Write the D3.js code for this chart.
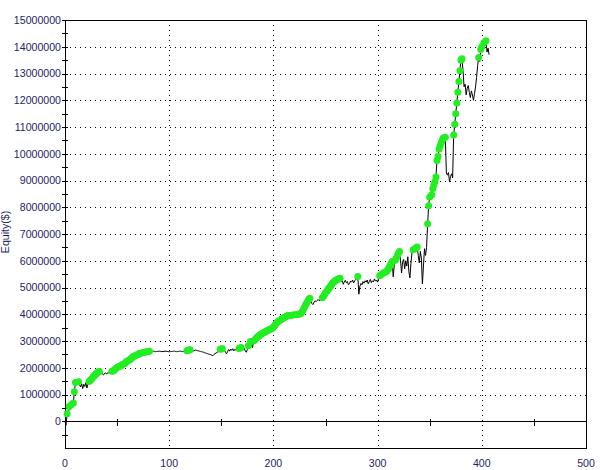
<!DOCTYPE html>
<html>
<head>
<meta charset="utf-8">
<script src="https://cdn.jsdelivr.net/npm/d3@7"></script>
<style>
  html, body { margin: 0; padding: 0; background: #ffffff; }
  svg { display: block; }
</style>
</head>
<body>
<svg id="chart" width="604" height="470"></svg>
<script>
// ---- data (equity in millions of $, one value per trade number) ----
const equityM = [
  0, -0.15, 0.28, 0.18, 0.55, 0.45, 0.62, 0.58, 0.68, 1.10,
  1.45, 1.40, 1.44, 1.48, 1.35, 1.28, 1.40, 1.22, 1.38, 1.30,
  1.44, 1.24, 1.42, 1.49, 1.52, 1.56, 1.60, 1.66, 1.70, 1.74,
  1.78, 1.81, 1.85, 1.86, 1.80, 1.84, 1.76, 1.73, 1.79, 1.81,
  1.76, 1.82, 1.80, 1.84, 1.83, 1.87, 1.88, 1.90, 1.94, 1.98,
  2.01, 2.04, 2.02, 2.06, 2.09, 2.12, 2.10, 2.15, 2.19, 2.23,
  2.26, 2.24, 2.29, 2.33, 2.36, 2.40, 2.43, 2.45, 2.44, 2.48,
  2.50, 2.52, 2.53, 2.51, 2.55, 2.57, 2.56, 2.58, 2.60, 2.59,
  2.61, 2.62, 2.62, 2.60, 2.61, 2.62, 2.61, 2.60, 2.61, 2.61,
  2.62, 2.62, 2.61, 2.60, 2.61, 2.61, 2.62, 2.62, 2.61, 2.60,
  2.60, 2.60, 2.61, 2.61, 2.62, 2.62, 2.61, 2.60, 2.61, 2.61,
  2.62, 2.62, 2.61, 2.60, 2.61, 2.62, 2.62, 2.64, 2.65, 2.66,
  2.67, 2.65, 2.66, 2.63, 2.64, 2.66, 2.65, 2.64, 2.63, 2.62,
  2.61, 2.60, 2.59, 2.58, 2.56, 2.55, 2.54, 2.52, 2.51, 2.50,
  2.48, 2.47, 2.45, 2.50, 2.53, 2.55, 2.58, 2.60, 2.66, 2.69,
  2.70, 2.71, 2.60, 2.66, 2.58, 2.52, 2.60, 2.68, 2.62, 2.70,
  2.65, 2.71, 2.63, 2.69, 2.66, 2.70, 2.62, 2.72, 2.74, 2.76,
  2.70, 2.66, 2.72, 2.63, 2.58, 2.68, 2.82, 2.76, 2.98, 2.86,
  2.75, 3.00, 3.04, 3.08, 3.12, 3.16, 3.19, 3.22, 3.25, 3.28,
  3.30, 3.32, 3.34, 3.36, 3.38, 3.40, 3.42, 3.44, 3.46, 3.48,
  3.52, 3.57, 3.62, 3.67, 3.71, 3.75, 3.77, 3.79, 3.82, 3.85,
  3.87, 3.89, 3.91, 3.93, 3.94, 3.95, 3.95, 3.96, 3.96, 3.97,
  3.97, 3.98, 3.98, 3.99, 4.00, 4.01, 4.02, 4.06, 4.12, 4.20,
  4.28, 4.36, 4.42, 4.50, 4.56, 4.60, 4.48, 4.40, 4.36, 4.45,
  4.50, 4.47, 4.52, 4.55, 4.50, 4.56, 4.58, 4.62, 4.67, 4.74,
  4.80, 4.85, 4.90, 4.96, 5.01, 5.06, 5.12, 5.18, 5.21, 5.24,
  5.27, 5.29, 5.31, 5.33, 5.35, 5.22, 5.28, 5.12, 5.20, 5.27,
  5.18, 5.22, 5.10, 5.14, 5.24, 5.20, 5.28, 5.17, 5.25, 5.30,
  5.33, 5.41, 4.75, 5.05, 5.15, 5.10, 5.22, 5.16, 5.25, 5.20,
  5.28, 5.14, 5.22, 5.30, 5.18, 5.25, 5.21, 5.32, 5.24, 5.28,
  5.20, 5.35, 5.44, 5.48, 5.46, 5.52, 5.55, 5.53, 5.59, 5.62,
  5.68, 5.75, 5.82, 5.90, 5.97, 5.40, 5.85, 6.02, 6.10, 6.20,
  6.28, 6.35, 6.02, 5.54, 5.95, 6.05, 5.70, 6.00, 5.80, 6.15,
  5.60, 5.36, 5.90, 6.30, 6.41, 6.38, 6.45, 6.49, 6.51, 6.20,
  5.92, 6.35, 6.10, 5.13, 5.80, 6.45, 6.20, 6.50, 7.38, 8.06,
  8.38, 8.30, 8.47, 8.70, 8.84, 8.96, 9.13, 9.75, 9.90, 10.18,
  10.30, 10.40, 10.50, 10.59, 10.55, 10.62, 9.28, 9.20, 9.30, 8.95,
  9.15, 9.25, 9.10, 10.70, 11.10, 11.50, 11.90, 12.30, 12.70, 13.10,
  13.50, 13.55, 13.10, 12.50, 12.60, 12.20, 12.45, 12.55, 12.30, 12.10,
  12.35, 12.20, 12.00, 12.25, 12.50, 12.85, 13.30, 13.60, 13.45, 13.90,
  14.00, 13.85, 14.15, 14.05, 14.22, 13.80, 13.95, 13.70
];
const xTickValues = [0, 100, 200, 300, 400, 500];
const xMinorTicks = [50, 150, 250, 350, 450];
const yTickValues = [0, 1000000, 2000000, 3000000, 4000000, 5000000, 6000000, 7000000,
                     8000000, 9000000, 10000000, 11000000, 12000000, 13000000, 14000000, 15000000];
const yGridValues = [1000000, 2000000, 3000000, 4000000, 5000000, 6000000, 7000000,
                     8000000, 9000000, 10000000, 11000000, 12000000, 13000000, 14000000];
const xGridValues = [100, 200, 300, 400];
const yAxisTitle = "Equity($)";

// ---- build ----
const svg = d3.select("#chart");
const pL = 65, pR = 586, pT = 20, pB = 448;
const x = d3.scaleLinear().domain([0, 500]).range([pL, pR]);
const y = d3.scaleLinear().domain([-1000000, 15000000]).range([pB, pT]);
const labelColor = "#1e1e66";
const font = "'Liberation Sans', Arial, sans-serif";

const data = equityM.map((v, i) => ({ i, v: v * 1e6 }));

// grid
const g = svg.append("g").attr("shape-rendering", "crispEdges");
g.selectAll("line.hg").data(yGridValues).join("line")
  .attr("x1", pL).attr("x2", pR)
  .attr("y1", d => Math.round(y(d)) + 0.5).attr("y2", d => Math.round(y(d)) + 0.5)
  .attr("stroke", "#000").attr("stroke-width", 1).attr("stroke-dasharray", "1,4");
g.selectAll("line.vg").data(xGridValues).join("line")
  .attr("y1", pT).attr("y2", pB)
  .attr("x1", d => Math.round(x(d)) + 0.5).attr("x2", d => Math.round(x(d)) + 0.5)
  .attr("stroke", "#000").attr("stroke-width", 1).attr("stroke-dasharray", "1,4");

// frame
g.append("rect")
  .attr("x", pL + 0.5).attr("y", pT + 0.5)
  .attr("width", pR - pL).attr("height", pB - pT)
  .attr("fill", "none").attr("stroke", "#000");

// zero line
const y0 = Math.round(y(0)) + 0.5;
g.append("line").attr("x1", pL).attr("x2", pR).attr("y1", y0).attr("y2", y0)
  .attr("stroke", "#000");
g.selectAll("line.xt").data(xMinorTicks).join("line")
  .attr("x1", d => Math.round(x(d)) + 0.5).attr("x2", d => Math.round(x(d)) + 0.5)
  .attr("y1", y0 - 3).attr("y2", y0 + 4).attr("stroke", "#000");

// y ticks (major + minor)
const yAllTicks = d3.range(-500000, 15000001, 500000);
g.selectAll("line.yt").data(yAllTicks).join("line")
  .attr("x1", pL - 3).attr("x2", pL + 3)
  .attr("y1", d => Math.round(y(d)) + 0.5).attr("y2", d => Math.round(y(d)) + 0.5)
  .attr("stroke", "#000");

// y labels
svg.selectAll("text.yl").data(yTickValues).join("text")
  .attr("x", pL - 4).attr("y", d => y(d))
  .attr("dy", "0.36em").attr("text-anchor", "end")
  .attr("font-family", font).attr("font-size", "10.6px")
  .attr("fill", labelColor)
  .text(d => d3.format("d")(d));

// x labels
svg.selectAll("text.xl").data(xTickValues).join("text")
  .attr("x", d => x(d)).attr("y", 467)
  .attr("text-anchor", "middle")
  .attr("font-family", font).attr("font-size", "10.6px")
  .attr("fill", labelColor)
  .text(d => d);

// y title
svg.append("text")
  .attr("transform", "translate(9,232) rotate(-90)")
  .attr("text-anchor", "middle")
  .attr("font-family", font).attr("font-size", "10.6px")
  .attr("fill", labelColor)
  .text(yAxisTitle);

// equity line
const line = d3.line().x(d => x(d.i)).y(d => y(d.v));
svg.append("path").datum(data)
  .attr("d", line).attr("fill", "none")
  .attr("stroke", "#000").attr("stroke-width", 1);

// new equity highs
let runMax = -Infinity;
const highs = data.filter(d => { if (d.v > runMax) { runMax = d.v; return d.i > 0; } return false; });
svg.selectAll("circle.hi").data(highs).join("circle")
  .attr("cx", d => x(d.i)).attr("cy", d => y(d.v)).attr("r", 3.5)
  .attr("fill", "#22ee22");
</script>
</body>
</html>
